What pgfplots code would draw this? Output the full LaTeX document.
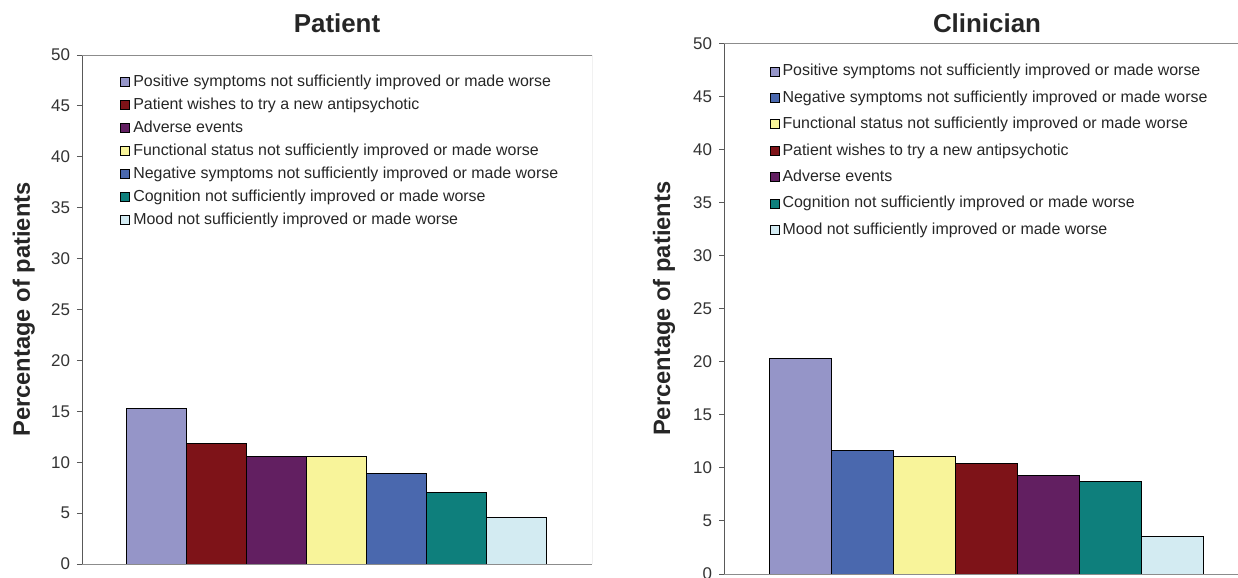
\documentclass[border=0pt]{standalone}
\usepackage{fontspec}
\setmainfont{Liberation Sans}
\usepackage{pgfplots}
\pgfplotsset{compat=1.18}

\definecolor{cPos}{HTML}{9595C8}
\definecolor{cWish}{HTML}{7E1318}
\definecolor{cAdv}{HTML}{621F61}
\definecolor{cFunc}{HTML}{F8F49A}
\definecolor{cNeg}{HTML}{4A68AE}
\definecolor{cCog}{HTML}{0E7F7C}
\definecolor{cMood}{HTML}{D3EBF2}

\pgfplotsset{
  chart/.style={
    scale only axis,
    axis lines=left,
    axis line style={-, line width=0.5bp},
    y axis line style={draw=black!65},
    x axis line style={draw=black!45},
    ymin=0, ymax=50, ytick={0,5,...,50},
    xtick=\empty,
    tick align=outside, major tick length=2.5bp,
    tick style={draw=black!65, line width=0.5bp},
    y tick label style={font=\fontsize{8.5}{10}\selectfont, text=black!80},
    /pgf/number format/assume math mode=true,
    ybar, bar width=1, bar shift=0pt,
    ylabel={Percentage of patients},
    ylabel style={font=\bfseries\fontsize{11.9}{14}\selectfont, text=black!85, anchor=center},
    title style={font=\bfseries\fontsize{13}{15}\selectfont, text=black!85, anchor=base},
    legend style={draw=none, fill=none, anchor=north west, inner sep=0pt,
      font=\fontsize{8}{9.5}\selectfont, text=black!85,
      nodes={inner ysep=0pt, inner xsep=1.55bp, text height=6.2bp, text depth=1.8bp},
      cells={anchor=west}},
    legend image code/.code={\draw[#1, draw=black, line width=0.4bp] (0bp,-2.25bp) rectangle (4.5bp,2.25bp);},
    every axis plot/.append style={draw=black, line width=0.5bp},
  }
}

\begin{document}
\begin{tikzpicture}
\path[use as bounding box] (0,0) rectangle (619bp,289bp);

% patient
\begin{axis}[chart,
  at={(41bp,7bp)}, anchor=south west,
  width=255bp, height=254.5bp,
  xmin=-1.245, xmax=7.26,
  title={Patient},
  title style={at={(axis description cs:0.5,1)}, yshift=5.5bp},
  ylabel style={at={(axis description cs:-0.114,0.5)}},
  legend style={at={(0.0745,0.963)}, row sep=3.5bp},
]
\addplot[fill=cPos] coordinates {(0,15.3)};
\addplot[fill=cWish] coordinates {(1,11.85)};
\addplot[fill=cAdv] coordinates {(2,10.6)};
\addplot[fill=cFunc] coordinates {(3,10.6)};
\addplot[fill=cNeg] coordinates {(4,8.85)};
\addplot[fill=cCog] coordinates {(5,7.0)};
\addplot[fill=cMood] coordinates {(6,4.6)};
\legend{Positive symptoms not sufficiently improved or made worse,
  Patient wishes to try a new antipsychotic,
  Adverse events,
  Functional status not sufficiently improved or made worse,
  Negative symptoms not sufficiently improved or made worse,
  Cognition not sufficiently improved or made worse,
  Mood not sufficiently improved or made worse}
\draw[black!45, line width=0.5bp] (rel axis cs:0,1) -- (rel axis cs:1,1) -- (rel axis cs:1,0);
\end{axis}

% clinician
\begin{axis}[chart,
  at={(362bp,2bp)}, anchor=south west,
  width=263bp, height=265.25bp,
  xmin=-1.237, xmax=7.247,
  title={Clinician},
  title style={at={(axis description cs:0.5,1)}, yshift=-0.25bp},
  ylabel style={at={(axis description cs:-0.114,0.5)}},
  legend style={at={(0.086,0.963)}, row sep=5.2bp},
]
\addplot[fill=cPos] coordinates {(0,20.3)};
\addplot[fill=cNeg] coordinates {(1,11.6)};
\addplot[fill=cFunc] coordinates {(2,11.05)};
\addplot[fill=cWish] coordinates {(3,10.45)};
\addplot[fill=cAdv] coordinates {(4,9.3)};
\addplot[fill=cCog] coordinates {(5,8.7)};
\addplot[fill=cMood] coordinates {(6,3.5)};
\legend{Positive symptoms not sufficiently improved or made worse,
  Negative symptoms not sufficiently improved or made worse,
  Functional status not sufficiently improved or made worse,
  Patient wishes to try a new antipsychotic,
  Adverse events,
  Cognition not sufficiently improved or made worse,
  Mood not sufficiently improved or made worse}
\draw[black!45, line width=0.5bp] (rel axis cs:0,1) -- (rel axis cs:1,1);
\end{axis}
\end{tikzpicture}
\end{document}
